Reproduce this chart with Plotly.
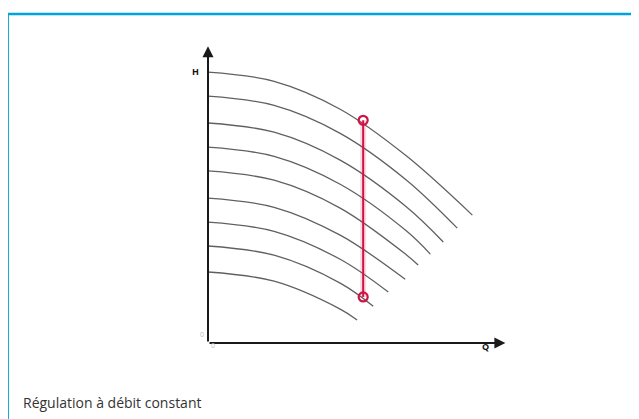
import plotly.graph_objects as go

# pump curves H(Q) at different speeds (arbitrary units)
CURVE_Q = [
    [0, 2.5, 5, 7.5, 10.0],
    [0, 2.5, 5, 7.5, 9.43],
    [0, 2.5, 5, 7.5, 8.9],
    [0, 2.5, 5, 7.5, 8.41],
    [0, 2.5, 5, 7.5, 7.95],
    [0, 2.5, 5, 7.46],
    [0, 2.5, 5, 6.82],
    [0, 2.5, 5, 6.25],
    [0, 2.5, 5, 5.64],
]
CURVE_H = [
    [10.0, 9.66, 8.63, 6.91, 4.72],
    [9.11, 8.77, 7.74, 6.02, 4.24],
    [8.12, 7.78, 6.75, 5.03, 3.73],
    [7.23, 6.89, 5.86, 4.14, 3.28],
    [6.35, 6.01, 4.98, 3.26, 2.88],
    [5.35, 5.01, 3.98, 2.35],
    [4.46, 4.12, 3.09, 1.88],
    [3.58, 3.24, 2.21, 1.36],
    [2.62, 2.28, 1.25, 0.85],
]

# constant flow regulation line
REG_Q = [5.87, 5.87]
REG_H = [8.22, 1.70]

RED = '#CC1447'

fig = go.Figure()

for q, h in zip(CURVE_Q, CURVE_H):
    fig.add_trace(go.Scatter(
        x=q, y=h, mode='lines', line=dict(color='#606060', width=1.3, shape='spline'),
        hoverinfo='skip'
    ))

# soft glow behind the red line
fig.add_trace(go.Scatter(
    x=REG_Q, y=REG_H, mode='lines', line=dict(color='rgba(230,0,70,0.15)', width=6),
    hoverinfo='skip'
))
fig.add_trace(go.Scatter(
    x=REG_Q, y=REG_H, mode='lines+markers',
    line=dict(color=RED, width=2),
    marker=dict(symbol='circle-open', size=9, color=RED, line=dict(width=2.2, color=RED)),
    hoverinfo='skip'
))

annotations = [
    # axes with arrow heads
    dict(x=11.25, y=0, ax=0, ay=0, xref='x', yref='y', axref='x', ayref='y', text='',
         showarrow=True, arrowhead=2, arrowsize=1.1, arrowwidth=2, arrowcolor='#1a1a1a'),
    dict(x=0, y=10.95, ax=0, ay=0, xref='x', yref='y', axref='x', ayref='y', text='',
         showarrow=True, arrowhead=2, arrowsize=1.1, arrowwidth=2, arrowcolor='#1a1a1a'),
    dict(x=-0.059, y=0.94, xref='paper', yref='paper', text='<b>H</b>', showarrow=False,
         font=dict(size=9, color='#111')),
    dict(x=0.932, y=-0.040, xref='paper', yref='paper', text='<b>Q</b>', showarrow=False,
         font=dict(size=9, color='#111')),
    dict(x=-0.033, y=0.007, xref='paper', yref='paper', text='0', showarrow=False,
         font=dict(size=7, color='#bbb')),
    dict(x=0.003, y=-0.030, xref='paper', yref='paper', text='0', showarrow=False,
         font=dict(size=7, color='#bbb')),
    dict(x=-0.616, y=-0.198, xref='paper', yref='paper', xanchor='left', yanchor='middle',
         text='Régulation à débit constant', showarrow=False,
         font=dict(size=14, color='#333', family='Open Sans, Noto Sans, sans-serif')),
]

# the page puts the figure 8px in from the top-left corner, so margins are shifted by 8px
fig.update_layout(
    width=639, height=419, autosize=False,
    paper_bgcolor='white', plot_bgcolor='white',
    showlegend=False,
    margin=dict(l=200, r=135, t=37, b=84),
    xaxis=dict(range=[0, 11.5], visible=False, fixedrange=True),
    yaxis=dict(range=[0, 11], visible=False, fixedrange=True),
    annotations=annotations,
    shapes=[dict(type='rect', xref='paper', yref='paper', x0=-0.659, x1=1.6, y0=-0.6, y1=1.104,
                 line=dict(color='#00A3E0', width=2.5), layer='below')],
)

fig.write_html("out.html")
